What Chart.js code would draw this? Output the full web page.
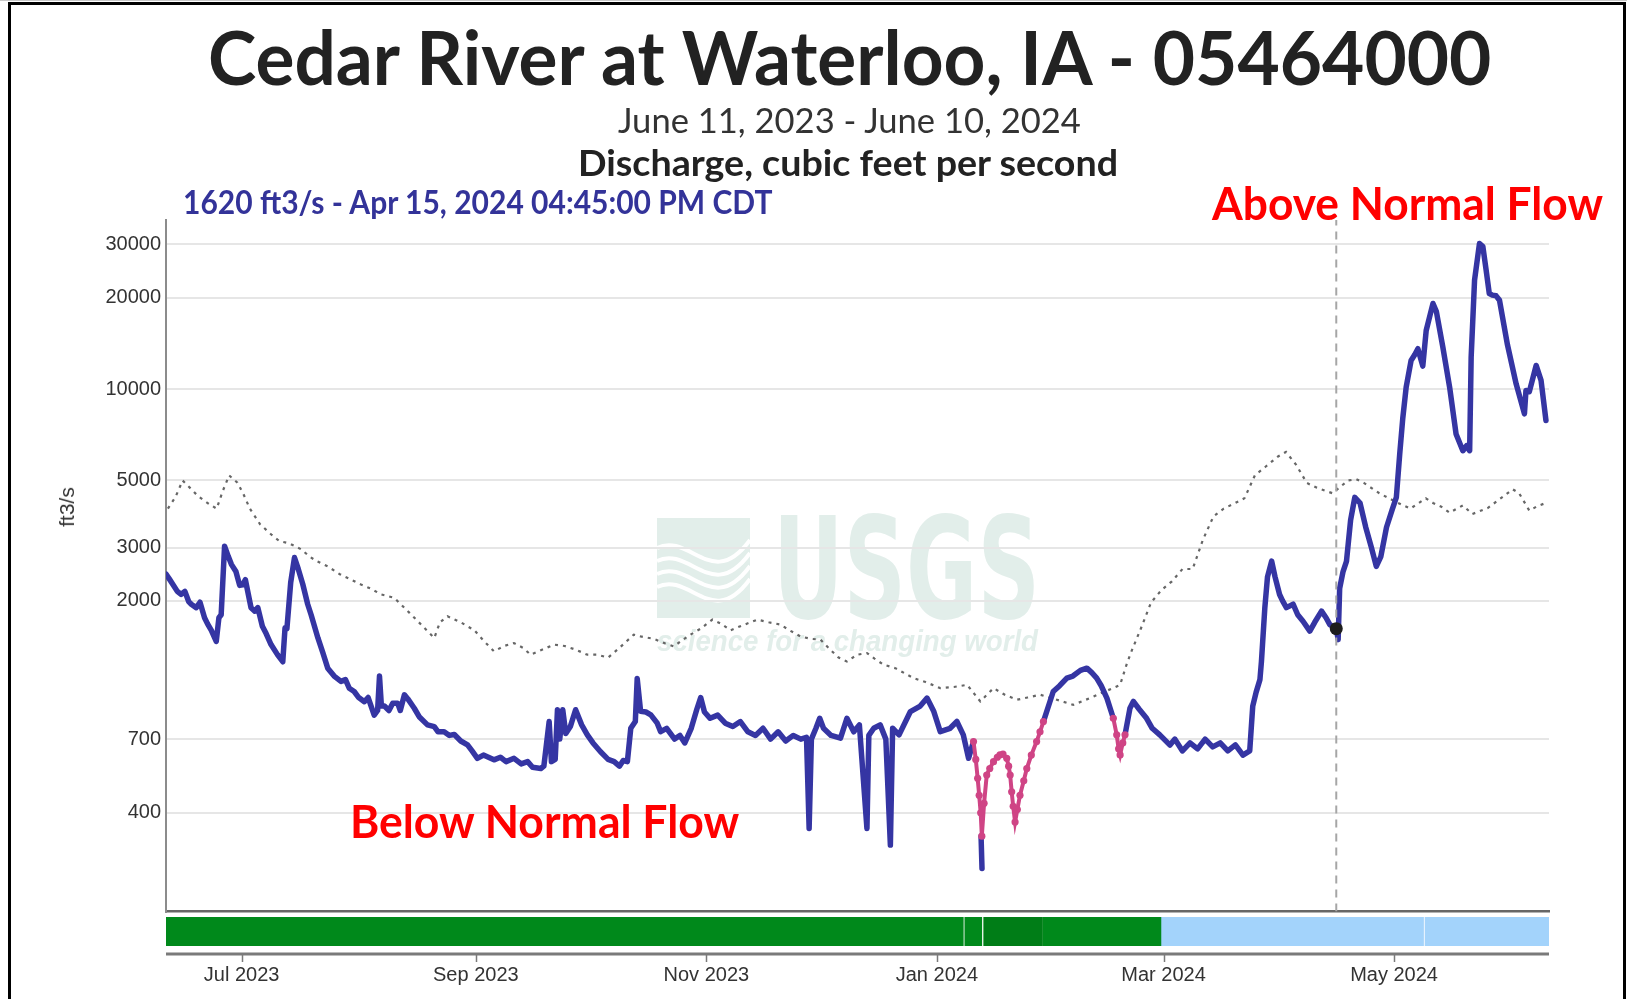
<!DOCTYPE html>
<html lang="en">
<head>
<meta charset="utf-8">
<title>Cedar River at Waterloo, IA - 05464000</title>
<script src="https://cdn.jsdelivr.net/npm/chart.js@4.4.1/dist/chart.umd.min.js"></script>
<style>
  html, body { margin: 0; padding: 0; background: #fff; }
  body { position: relative; width: 1627px; height: 999px; overflow: hidden; }
  #topRule { position: absolute; left: 0; top: 0; width: 1627px; height: 1px; background: #c8c8c8; }
  #frame { position: absolute; left: 8px; top: 2px; width: 1612px; height: 1020px; border: 3px solid #000; border-bottom: 0; }
  canvas { position: absolute; left: 0; }
  #flowChart { top: 0; }
  #statusChart { top: 912px; }
  .label { position: absolute; white-space: nowrap; line-height: 1.2; transform-origin: 0 0; font-family: Lato, "Open Sans", sans-serif; }
  #title { font-size: 75px; font-weight: 700; color: #222; }
  #period { font-size: 35px; font-weight: 400; color: #333; }
  #param { font-size: 36px; font-weight: 700; color: #222; }
  #current { font-size: 32px; font-weight: 700; color: #333399; }
  .flowNote { font-size: 45px; font-weight: 700; color: #ff0000; }
  #yTitle { position: absolute; left: 67px; top: 507px; transform: translate(-50%, -50%) rotate(-90deg); font: 21px "Liberation Sans", Arial, sans-serif; color: #333; white-space: nowrap; }
</style>
</head>
<body>
<div id="topRule"></div>
<div id="frame"></div>
<canvas id="flowChart" width="1627" height="918"></canvas>
<canvas id="statusChart" width="1627" height="87"></canvas>

<div id="title" class="label">Cedar River at Waterloo, IA - 05464000</div>
<div id="period" class="label">June 11, 2023 - June 10, 2024</div>
<div id="param" class="label">Discharge, cubic feet per second</div>
<div id="current" class="label">1620 ft3/s - Apr 15, 2024 04:45:00 PM CDT</div>
<div id="above" class="label flowNote">Above Normal Flow</div>
<div id="below" class="label flowNote">Below Normal Flow</div>
<div id="yTitle">ft3/s</div>

<script>
// x values are days since Jun 11, 2023 00:00
const dayEnd = 366;
const tickDays = [20, 82, 143, 204, 264, 325];
const tickLabels = ["Jul 2023", "Sep 2023", "Nov 2023", "Jan 2024", "Mar 2024", "May 2024"];

const yMin = 189;
const yMax = 36100;
const yTicks = [400, 700, 2000, 3000, 5000, 10000, 20000, 30000];

// instantaneous discharge (null = break in the record)
const flowDay = [
    0, 1, 2, 3, 4, 5, 6, 6.7, 8, 9,
    10.2, 11, 12, 13.3, 14, 14.6, 15.5, 16.5, 17.3, 18.5,
    19.5, 20.3, 21, 22.5, 23.5, 24.3, 25.5, 26.5, 27.8, 29.5,
    30.9, 31.5, 32, 33, 34, 35, 36.2, 37.5, 38.4, 40.2,
    41.5, 42.8, 44.5, 46.3, 47.5, 48.5, 49.8, 51, 52.5, 53.5,
    55.1, 56, 56.5, 57, 57.8, 59, 60, 61.3, 62, 63.1,
    64, 65.7, 67, 69.2, 71, 72, 73.6, 75, 76.3, 78,
    79.8, 81, 82.4, 84, 86.8, 88.5, 90, 92.1, 94, 95.7,
    97, 99.2, 100, 101.4, 102, 103, 103.6, 104.2, 105, 105.8,
    107, 108.4, 110, 111.5, 113, 115, 117, 118.6, 120, 121,
    122.1, 123, 124.2, 124.7, 125.6, 127, 128.3, 130, 130.9, 132.5,
    134.6, 136, 137.3, 139, 140.5, 141.5, 142.5, 144, 146, 148,
    150, 152, 154, 156, 158, 160, 162, 164, 166, 168,
    169.5, 170.2, 170.8, 172, 173, 174, 176, 178.5, 180.2, 182,
    183.5, 185.5, 186, 187.3, 189, 190.5, 191.7, 192.3, 194, 197,
    199.6, 201.4, 203.2, 204.9, 207.5, 209.3, 211, 212.4, 213.7, 214,
    215.7, 215.95, 216.1, 232.2, 234.8, 236.5, 238.4, 240, 242, 243.7,
    245, 246.3, 247.5, 249, 250.7, 251, 253.8, 255.1, 256, 257.5,
    259.5, 261, 263, 265.7, 267, 269, 271, 273, 275, 277,
    279, 281, 283, 285, 286.8, 287.6, 288.5, 289.5, 289.9, 290.8,
    291.5, 292.6, 293.5, 294.7, 295.5, 296.5, 298.3, 299.5, 300.9, 302.7,
    304, 305.8, 307, 308, 309.7, 310.2, 310.6, 311.5, 312.4, 313.5,
    314.6, 316, 317.5, 319, 320.3, 321.5, 323, 324.5, 325.6, 326.5,
    327.3, 328.2, 329.5, 330.5, 331.3, 332.6, 333.5, 334.5, 335.3, 336.2,
    337.9, 339.7, 341.4, 343.2, 344.2, 345, 345.4, 346.3, 347.6, 348.5,
    349.3, 350.2, 351, 352, 352.9, 355, 357.3, 359.5, 359.9, 360.8,
    362.6, 363.9, 365.2
];
const flowCfs = [
    2450, 2350, 2250, 2150, 2100, 2150, 1990, 1950, 1900, 1980,
    1760, 1680, 1600, 1470, 1760, 1800, 3030, 2800, 2640, 2500,
    2250, 2260, 2350, 1900, 1850, 1900, 1650, 1560, 1435, 1330,
    1260, 1630, 1620, 2300, 2780, 2550, 2270, 1950, 1800, 1510,
    1350, 1200, 1130, 1085, 1100, 1030, 1005, 960, 930, 960,
    840, 870, 1130, 900, 900, 870, 920, 920, 870, 980,
    950, 885, 830, 780, 770, 740, 740, 720, 725, 690,
    670, 640, 605, 620, 598, 610, 590, 605, 580, 590,
    565, 560, 570, 800, 590, 600, 875, 700, 875, 730,
    770, 875, 780, 723, 680, 636, 600, 590, 570, 595,
    590, 760, 800, 1110, 865, 860, 842, 790, 741, 760,
    700, 720, 680, 760, 880, 960, 860, 820, 840, 790,
    770, 800, 740, 720, 760, 700, 740, 690, 720, 700,
    710, 355, 700, 760, 820, 760, 720, 705, 820, 740,
    780, 355, 720, 760, 780, 700, 313, 760, 723, 863,
    900, 956, 863, 741, 760, 800, 723, 605, 687, null,
    335, 262, null, 800, 1005, 1050, 1113, 1130, 1180, 1200,
    1160, 1113, 1050, 956, 820, null, 723, 885, 932, 880,
    820, 760, 723, 669, 700, 640, 680, 650, 700, 660,
    680, 640, 670, 620, 640, 900, 1000, 1100, 1263, 1900,
    2400, 2706, 2400, 2100, 2000, 1900, 1950, 1800, 1714, 1590,
    1700, 1850, 1760, 1670, 1620, 1490, 2200, 2500, 2700, 3700,
    4390, 4200, 3500, 3000, 2600, 2800, 3500, 4000, 4390, 6117,
    8000, 10140, 12420, 13000, 13580, 11900, 15600, 17500, 19140, 18000,
    13750, 10140, 7106, 6258, 6500, 6258, 12740, 22860, 30200, 29500,
    25000, 20650, 20400, 20300, 19620, 14000, 10400, 8280, 9890, 9800,
    11960, 10670, 7867
];

// ice-affected, estimated values
const iceDay = [
    213.7, 214.3, 214.8, 215.2, 215.6, 215.9, 216.5, 217.2, 218, 219,
    220, 220.7, 221.5, 222.5, 223, 223.4, 223.8, 224.2, 224.7, 225.3,
    226, 227, 227.8, 229, 230.4, 231.3, 232.2, 240, 250.7, 251.6,
    252.1, 252.5, 253.2, 253.8
];
const iceCfs = [
    687, 600, 520, 457, 400, 335, 430, 533, 560, 590,
    610, 621, 625, 605, 570, 533, 469, 420, 373, 410,
    457, 510, 560, 620, 687, 740, 800, null, 820, 723,
    650, 621, 680, 723
];

// median daily statistic
const medianDay = [
    0.5, 2.5, 4.4, 6.5, 8.5, 11.2, 13.4, 15, 16.7, 18.9,
    20.5, 22.2, 24.9, 28, 30, 32.5, 35.8, 38, 40, 42.8,
    46, 49, 51.6, 54, 57, 60.4, 64, 67.5, 71, 72.5,
    74.5, 78, 81.6, 84, 86.8, 89.5, 92.1, 94.5, 96.5, 99.5,
    102.7, 105.5, 108.5, 111.5, 114.1, 117, 120, 123.8, 125.6, 129,
    132, 134.4, 136.5, 138.8, 141.5, 144.6, 147, 149.4, 152, 156.5,
    159.5, 162.6, 165, 167.9, 170.5, 173.2, 175.8, 178, 180.2, 182.9,
    185.5, 187.5, 189.9, 193, 197.8, 201, 204.9, 208.5, 212, 215.5,
    219, 222, 225.2, 228, 231.3, 235, 240.1, 245.4, 248, 250.7,
    252.5, 254.2, 255.5, 258, 260.7, 263.5, 266.2, 269, 271.7, 274.4,
    277.2, 279.9, 282.7, 285.4, 288.2, 290.9, 294.2, 296.4, 299.1, 301.9,
    304.6, 308.7, 312.8, 315, 317, 321.1, 325.2, 329.3, 333.4, 335.3,
    337.5, 339.7, 341.6, 343.2, 345.7, 349.8, 354, 356.4, 358.1, 360.8,
    362.8, 365.2
];
const medianCfs = [
    4030, 4400, 4990, 4700, 4430, 4190, 4030, 4600, 5190, 4910,
    4500, 4030, 3580, 3300, 3150, 3100, 2958, 2800, 2700, 2600,
    2450, 2350, 2265, 2200, 2100, 2047, 1850, 1671, 1509, 1700,
    1780, 1700, 1600, 1480, 1364, 1420, 1452, 1400, 1329, 1380,
    1435, 1420, 1380, 1329, 1329, 1300, 1400, 1548, 1527, 1500,
    1450, 1416, 1480, 1548, 1620, 1735, 1680, 1600, 1650, 1735,
    1700, 1671, 1600, 1527, 1500, 1490, 1381, 1300, 1263, 1329,
    1346, 1290, 1232, 1200, 1113, 1080, 1031, 1040, 1057, 932,
    1031, 980, 944, 960, 981, 950, 908, 966, 1000, 1031,
    1057, 1232, 1364, 1622, 1978, 2175, 2320, 2548, 2548, 3180,
    3800, 4030, 4190, 4360, 5200, 5530, 5980, 6200, 5620, 4900,
    4720, 4530, 4990, 5040, 4900, 4530, 4260, 4030, 4360, 4210,
    4090, 3910, 4030, 4130, 3870, 4050, 4430, 4670, 4530, 3970,
    4100, 4210
];

// latest reading shown in the header
const nowDay = 309.7;
const nowCfs = 1620;

// approval status along the bottom strip
const statusStart = [0, 211, 216, 232, 263.3, 332.8];
const statusEnd = [211, 216, 232, 263.3, 332.8, 366];
const statusKind = ["Approved", "Approved", "Approved, estimated", "Approved", "Provisional", "Provisional"];

const statusFill = {
    "Approved": "#00891b",
    "Approved, estimated": "#007d17",
    "Provisional": "#a3d3fb",
};
// thin light seams where one record period starts
const statusSeam = [0, 1.5, 1.5, 0, 0, 1.5];

const BLUE = "#3535a3";
const PINK = "#cf4485";

function toPoints(xs, ys) {
    return xs.map((x, i) => ({ x: x, y: ys[i] }));
}

Chart.defaults.font.family = '"Liberation Sans", Arial, sans-serif';
Chart.defaults.color = "#333";

// faint USGS logo behind the plot
const watermark = {
    id: "watermark",
    beforeDraw(chart) {
        const ctx = chart.ctx;
        const tint = "#e2eeea";
        ctx.save();
        ctx.fillStyle = tint;
        ctx.fillRect(657, 518, 93, 100);
        ctx.strokeStyle = "#fff";
        ctx.lineWidth = 4;
        for (let k = 0; k < 4; k++) {
            const o = k * 13;
            ctx.beginPath();
            ctx.moveTo(657, 548 + o);
            ctx.bezierCurveTo(690, 532 + o, 712, 592 + o, 750, 540 + o);
            ctx.stroke();
        }

        ctx.fillStyle = tint;
        ctx.textBaseline = "alphabetic";
        ctx.font = 'bold 140px "DejaVu Sans", "Liberation Sans", sans-serif';
        let w = ctx.measureText("USGS").width;
        ctx.save();
        ctx.translate(773, 618);
        ctx.scale(267 / w, 1);
        ctx.fillText("USGS", 0, 0);
        ctx.restore();

        ctx.font = 'italic bold 30px "Liberation Sans Narrow", "Liberation Sans", sans-serif';
        w = ctx.measureText("science for a changing world").width;
        ctx.translate(657, 651);
        ctx.scale(381 / w, 1);
        ctx.fillText("science for a changing world", 0, 0);
        ctx.restore();
    },
};

new Chart(document.getElementById("flowChart"), {
    type: "line",
    data: {
        datasets: [
            {
                label: "Latest",
                data: [{ x: nowDay, y: nowCfs }],
                showLine: false,
                pointRadius: 6.5,
                pointBackgroundColor: "#1d1d1d",
                pointBorderWidth: 0,
                order: 0,
            },
            {
                label: "Cursor",
                data: [{ x: nowDay, y: yMin }, { x: nowDay, y: yMax }],
                borderColor: "#a6a6a6",
                borderWidth: 2,
                borderDash: [8, 6],
                pointRadius: 0,
                order: 1,
            },
            {
                label: "Estimated",
                data: toPoints(iceDay, iceCfs),
                borderColor: PINK,
                backgroundColor: PINK,
                borderWidth: 4,
                pointRadius: 3.6,
                pointBorderWidth: 0,
                pointBackgroundColor: PINK,
                order: 2,
            },
            {
                label: "Discharge",
                data: toPoints(flowDay, flowCfs),
                borderColor: BLUE,
                borderWidth: 5.5,
                borderJoinStyle: "round",
                borderCapStyle: "round",
                pointRadius: 0,
                order: 3,
            },
            {
                label: "Median",
                data: toPoints(medianDay, medianCfs),
                borderColor: "#666",
                borderWidth: 2.2,
                borderDash: [3, 5],
                pointRadius: 0,
                order: 4,
            },
        ],
    },
    options: {
        responsive: false,
        animation: false,
        events: [],
        layout: { padding: { left: 0, right: 78, top: 220, bottom: 3 } },
        plugins: {
            legend: { display: false },
            tooltip: { enabled: false },
        },
        scales: {
            x: {
                type: "linear",
                min: 0,
                max: dayEnd,
                ticks: { display: false },
                grid: { display: false, drawTicks: false },
                border: { display: true, color: "#676767", width: 2.5 },
                afterFit(scale) {
                    scale.height = 0;
                },
            },
            y: {
                type: "logarithmic",
                min: yMin,
                max: yMax,
                afterBuildTicks(scale) {
                    scale.ticks = yTicks.map((v) => ({ value: v }));
                },
                ticks: {
                    color: "#333",
                    font: { size: 20 },
                    padding: 5,
                    callback: (v) => String(v),
                },
                grid: { color: "#e6e6e6", lineWidth: 2, drawTicks: false },
                border: { color: "#8c8c8c", width: 2 },
                afterFit(scale) {
                    scale.width = 166;
                    // labels sit well inside the plot, no extra room needed
                    scale.paddingTop = 0;
                    scale.paddingBottom = 0;
                },
            },
        },
    },
    plugins: [watermark],
});

// axis line with tick marks under the status strip
const lowerAxis = {
    id: "lowerAxis",
    afterDraw(chart) {
        const { ctx, chartArea, scales } = chart;
        const y = chartArea.bottom + 8;
        ctx.save();
        ctx.strokeStyle = "#7a7a7a";
        ctx.lineWidth = 3;
        ctx.beginPath();
        ctx.moveTo(chartArea.left, y);
        ctx.lineTo(chartArea.right, y);
        ctx.stroke();
        ctx.lineWidth = 1.5;
        scales.x.ticks.forEach((t) => {
            const px = Math.round(scales.x.getPixelForValue(t.value)) + 0.5;
            ctx.beginPath();
            ctx.moveTo(px, y);
            ctx.lineTo(px, y + 8);
            ctx.stroke();
        });
        ctx.restore();
    },
};

new Chart(document.getElementById("statusChart"), {
    type: "bar",
    data: {
        labels: ["Status"],
        datasets: statusStart.map((s, i) => ({
            label: statusKind[i],
            data: [[s, statusEnd[i]]],
            backgroundColor: statusFill[statusKind[i]],
            borderColor: "rgba(255,255,255,0.45)",
            borderWidth: { left: statusSeam[i], right: 0, top: 0, bottom: 0 },
            borderSkipped: false,
            grouped: false,
            barPercentage: 1,
            categoryPercentage: 1,
        })),
    },
    options: {
        indexAxis: "y",
        responsive: false,
        animation: false,
        events: [],
        layout: { padding: { left: 166, right: 78, top: 5, bottom: 0 } },
        plugins: {
            legend: { display: false },
            tooltip: { enabled: false },
        },
        scales: {
            y: { display: false },
            x: {
                type: "linear",
                min: 0,
                max: dayEnd,
                afterBuildTicks(scale) {
                    scale.ticks = tickDays.map((v) => ({ value: v }));
                },
                ticks: {
                    color: "#333",
                    font: { size: 20 },
                    padding: 9,
                    maxRotation: 0,
                    autoSkip: false,
                    callback: (v, i) => tickLabels[i],
                },
                grid: { display: false },
                border: { display: false },
                afterFit(scale) {
                    scale.height = 53;
                },
            },
        },
    },
    plugins: [lowerAxis],
});

// put a text block on a baseline and squeeze it to a set width
function placeText(id, left, baseline, width) {
    const el = document.getElementById(id);
    const probe = document.createElement("span");
    probe.style.cssText = "display:inline-block;width:0;height:0;";
    el.appendChild(probe);
    el.style.left = left + "px";
    el.style.top = baseline - probe.offsetTop + "px";
    el.removeChild(probe);
    el.style.transform = "scaleX(" + width / el.offsetWidth + ")";
}

placeText("title", 207.5, 85, 1283);
placeText("period", 618, 133, 463);
placeText("param", 578, 176, 540);
placeText("current", 182.6, 214, 589);
placeText("above", 1212, 220, 391);
placeText("below", 350, 838, 389);
</script>
</body>
</html>
